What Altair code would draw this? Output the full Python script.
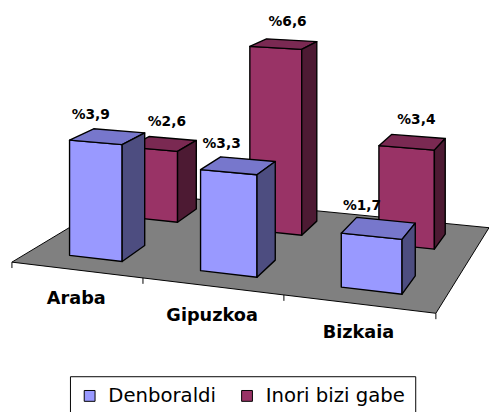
import altair as alt
import pandas as pd

# ---------------- data ----------------
categories = ["Araba", "Gipuzkoa", "Bizkaia"]
series = ["Denboraldi", "Inori bizi gabe"]
denboraldi = [3.9, 3.3, 1.7]
inori_bizi_gabe = [2.6, 6.6, 3.4]
values = {"Denboraldi": denboraldi, "Inori bizi gabe": inori_bizi_gabe}

# ---------------- styles ----------------
front_colors = ["#9999FF", "#993366"]
top_colors = {"Denboraldi": "#7777CC", "Inori bizi gabe": "#7A2952"}
side_colors = {"Denboraldi": "#4D4D80", "Inori bizi gabe": "#4D1A33"}
floor_color = "#808080"
FONT = "DejaVu Sans"

# ---------------- 3-D view (perspective of the floor plane) ----------------
# floor corners on the page: (u,w) = (0,0), (1,0), (1,1), (0,1)
VIEW = [(12, 263), (443, 315), (497, 228), (130, 192)]
K = 30.5                      # pixels per value unit at unit depth factor
ROW_W = {"Denboraldi": 0.14, "Inori bizi gabe": 0.66}   # depth of each series row
BAR_DEPTH = 0.2
BAR_X0, BAR_X1 = 0.31, 0.72   # bar extent inside a category slot
N = len(categories)


def homography(c):
    (x0, y0), (x1, y1), (x2, y2), (x3, y3) = c
    sx, sy = x0 - x1 + x2 - x3, y0 - y1 + y2 - y3
    dx1, dx2, dy1, dy2 = x1 - x2, x3 - x2, y1 - y2, y3 - y2
    det = dx1 * dy2 - dx2 * dy1
    g = (sx * dy2 - dx2 * sy) / det
    h = (dx1 * sy - sx * dy1) / det
    return (x1 - x0 + g * x1, x3 - x0 + h * x3, x0,
            y1 - y0 + g * y1, y3 - y0 + h * y3, y0, g, h)


A, B, C, D_, E, F, G, H = homography(VIEW)


def project(X, w, v=0.0):
    u = X / N
    den = G * u + H * w + 1
    return (A * u + B * w + C) / den, (D_ * u + E * w + F) / den - v * K / den


def face_rows(pid, pts, s):
    rows = []
    for k, (X, w, v) in enumerate(pts):
        px, py = project(X, w, v)
        rows.append({"pid": pid, "k": k, "px": px, "py": py, "series": s})
    return rows


faces = {("front", s): [] for s in series}
faces.update({("top", s): [] for s in series})
faces.update({("side", s): [] for s in series})
labels = []
for s in series:
    w0 = ROW_W[s]
    w1 = w0 + BAR_DEPTH
    for i, cat in enumerate(categories):
        v = values[s][i]
        X0, X1 = i + BAR_X0, i + BAR_X1
        pid = f"{s}-{cat}"
        faces[("front", s)] += face_rows(pid, [(X0, w0, 0), (X1, w0, 0), (X1, w0, v), (X0, w0, v)], s)
        faces[("top", s)] += face_rows(pid, [(X0, w0, v), (X1, w0, v), (X1, w1, v), (X0, w1, v)], s)
        faces[("side", s)] += face_rows(pid, [(X1, w0, 0), (X1, w1, 0), (X1, w1, v), (X1, w0, v)], s)
        lx, ly = project((X0 + X1) / 2, (w0 + w1) / 2, v)
        labels.append({"series": s, "px": lx, "py": ly,
                       "text": "%" + f"{v:.1f}".replace(".", ",")})

floor_df = pd.DataFrame(face_rows("floor", [(0, 0, 0), (N, 0, 0), (N, 1, 0), (0, 1, 0)], ""))

tick_rows = []
for i in range(N + 1):
    px, py = project(i, 0)
    tick_rows.append({"px": px, "py": py, "py2": py + 6})
ticks_df = pd.DataFrame(tick_rows)

cat_rows = []
for i, cat in enumerate(categories):
    px, py = project(i + 0.5, 0)
    cat_rows.append({"px": px, "py": py, "cat": cat})
cat_df = pd.DataFrame(cat_rows)
labels_df = pd.DataFrame(labels)

# ---------------- chart ----------------
W, Hh = 489, 404
xs = alt.Scale(domain=[8, 8 + W], nice=False, zero=False)
ys = alt.Scale(domain=[8, 8 + Hh], nice=False, zero=False, reverse=True)
X_ = alt.X("px:Q", scale=xs, axis=None)
Y_ = alt.Y("py:Q", scale=ys, axis=None)

legend = alt.Legend(
    title=None, orient="none", legendX=63, legendY=371, direction="horizontal",
    symbolType="square", symbolSize=121, symbolStrokeColor="black", symbolStrokeWidth=1,
    symbolOpacity=1, labelFont=FONT, labelFontSize=20, labelColor="black", labelOffset=9,
    columnPadding=21, padding=10, strokeColor="black", fillColor="white", labelLimit=400,
)
fill_scale = alt.Scale(domain=series, range=front_colors)


def poly(df, fill=None, with_legend=False):
    if with_legend:
        mark = alt.Chart(df).mark_line(stroke="black", strokeWidth=1.4, interpolate="linear-closed",
                                       fillOpacity=1, strokeJoin="round")
        return mark.encode(x=X_, y=Y_, detail="pid:N", order="k:Q",
                           fill=alt.Fill("series:N", scale=fill_scale, legend=legend))
    mark = alt.Chart(df).mark_line(fill=fill, stroke="black", strokeWidth=1.4,
                                   interpolate="linear-closed", fillOpacity=1, strokeJoin="round")
    return mark.encode(x=X_, y=Y_, detail="pid:N", order="k:Q")


layers = [
    alt.Chart(floor_df).mark_line(fill=floor_color, stroke="black", strokeWidth=1,
                                  interpolate="linear-closed", fillOpacity=1)
    .encode(x=X_, y=Y_, detail="pid:N", order="k:Q"),
    alt.Chart(ticks_df).mark_rule(color="black", strokeWidth=1).encode(x=X_, y=Y_, y2="py2:Q"),
]
for s in reversed(series):  # back row first
    layers.append(poly(pd.DataFrame(faces[("front", s)]), with_legend=True))
    layers.append(poly(pd.DataFrame(faces[("top", s)]), fill=top_colors[s]))
    layers.append(poly(pd.DataFrame(faces[("side", s)]), fill=side_colors[s]))

label_dx = {"Denboraldi": -17, "Inori bizi gabe": 4}
for s in series:
    layers.append(
        alt.Chart(labels_df[labels_df.series == s]).mark_text(
            font=FONT, fontWeight="bold", fontSize=14, color="black",
            align="center", baseline="middle", dx=label_dx[s], dy=-22,
        ).encode(x=X_, y=Y_, text="text:N")
    )

layers.append(
    alt.Chart(cat_df).mark_text(
        font=FONT, fontWeight="bold", fontSize=18, color="black",
        align="center", baseline="alphabetic", dy=35,
    ).encode(x=X_, y=Y_, text="cat:N")
)

chart = alt.layer(*layers).properties(
    width=W, height=Hh, padding=0, background="white",
    autosize=alt.AutoSizeParams(type="none"),
).configure_view(strokeWidth=0, stroke="transparent")

chart.save("out.html", embed_options={"renderer": "svg", "actions": False})
